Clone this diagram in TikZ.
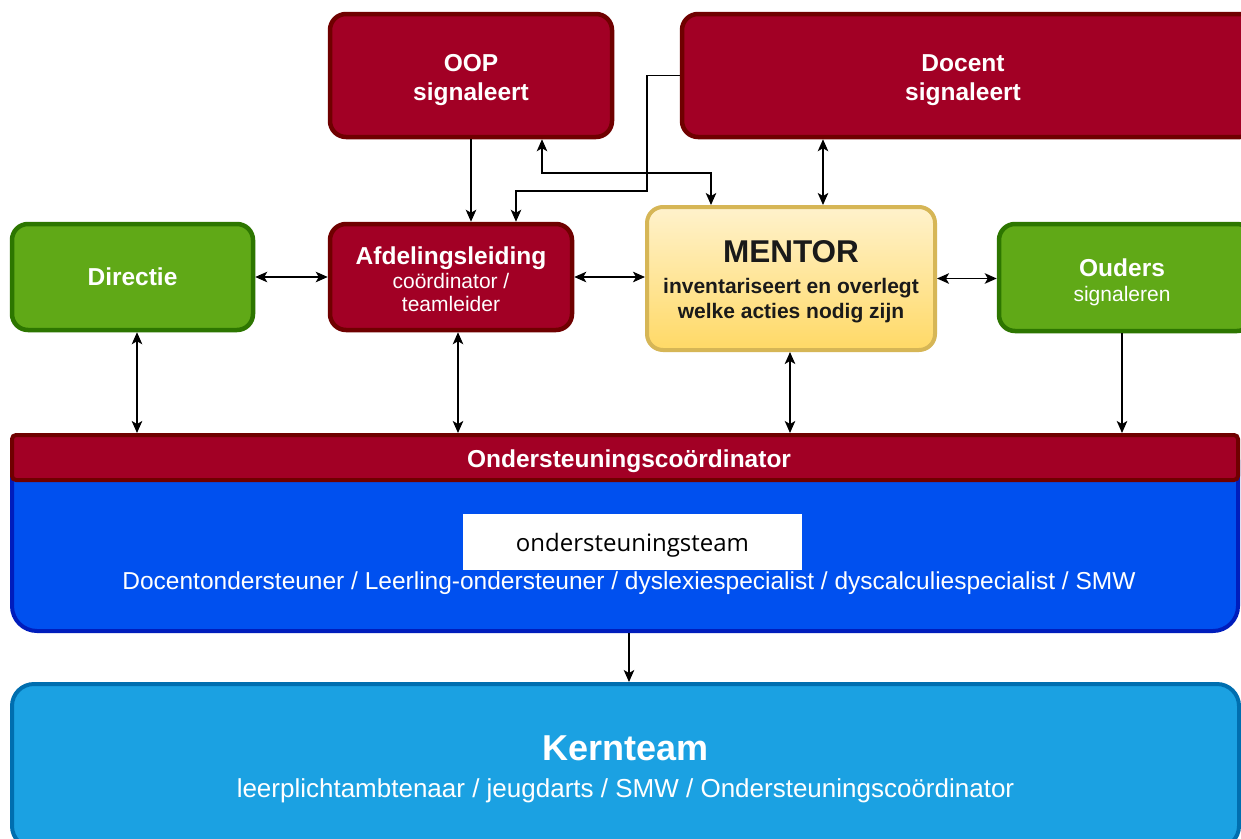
\documentclass[tikz,border=0pt]{standalone}
\usepackage{fontspec}
\setmainfont{Liberation Sans}
\newfontfamily\osfont{Open Sans}
\usetikzlibrary{arrows.meta}
\definecolor{rfill}{HTML}{A20025}
\definecolor{rdraw}{HTML}{6F0000}
\definecolor{gfill}{HTML}{60A917}
\definecolor{gdraw}{HTML}{2D7600}
\definecolor{ytop}{HTML}{FFF2CC}
\definecolor{ybot}{HTML}{FFD966}
\definecolor{ydraw}{HTML}{D6B656}
\definecolor{bfill}{HTML}{0050EF}
\definecolor{bdraw}{HTML}{001DBC}
\definecolor{kfill}{HTML}{1BA1E2}
\definecolor{kdraw}{HTML}{006EAF}
\definecolor{mtext}{HTML}{1A1A1A}
\newcommand\tstrut[1]{\rule{0pt}{#1pt}}
\tikzset{
  box/.style={draw, line width=4.5pt, rounded corners=16pt, align=center, inner sep=0pt, text=white},
  redbox/.style={box, fill=rfill, draw=rdraw},
  greenbox/.style={box, fill=gfill, draw=gdraw},
  tip/.tip={Stealth[length=12pt,width=10.5pt,inset=3pt]},
  arr/.style={line width=1.6pt, -tip},
  darr/.style={line width=1.6pt, tip-tip},
  bigb/.style={font=\fontsize{24.5}{29}\selectfont\bfseries},
}
\begin{document}
\begin{tikzpicture}[x=1pt,y=-1pt]
\useasboundingbox (0,0) rectangle (1241,838);
\clip (0,0) rectangle (1241,838);
\fill[white] (0,0) rectangle (1241,838);

% top boxes
\node[redbox, bigb, minimum width=282, minimum height=123] (oop) at (471,75.5) {\tstrut{27}OOP\\signaleert};
\node[redbox, bigb, minimum width=574, minimum height=123] (docent) at (969,75.5)
  {\hspace*{-12pt}\tstrut{27}Docent\\\hspace*{-12pt}signaleert};

% middle row
\node[greenbox, bigb, minimum width=241, minimum height=106] (directie) at (132.5,277) {Directie};
\node[redbox, minimum width=242, minimum height=106, font=\fontsize{21}{23.5}\selectfont] (afd) at (451,277)
  {{\fontsize{24.5}{26}\selectfont\bfseries\tstrut{22.5}Afdelingsleiding}\\coördinator /\\teamleider};
\node[box, top color=ytop, bottom color=ybot, draw=ydraw, line width=4pt, text=mtext,
  minimum width=288, minimum height=143, font=\fontsize{21}{25.5}\selectfont\bfseries] (mentor) at (791,278.5)
  {{\fontsize{31.5}{33}\selectfont\tstrut{29}MENTOR}\\[5pt]inventariseert en overlegt\\welke acties nodig zijn};
\node[greenbox, minimum width=254, minimum height=107, font=\fontsize{21}{25}\selectfont] (ouders) at (1126,277.5)
  {\hspace*{-8pt}{\fontsize{24.5}{26}\selectfont\bfseries\tstrut{28}Ouders}\\\hspace*{-8pt}signaleren};

% ondersteuningsteam container
\node[draw=bdraw, fill=bfill, line width=4pt, rounded corners=25pt, minimum width=1226, minimum height=196] (blue) at (625,533) {};
\node[draw=rdraw, fill=rfill, line width=4pt, rounded corners=4pt, minimum width=1226, minimum height=45,
  text=white, font=\fontsize{24.5}{28}\selectfont\bfseries] (bar) at (625,457.5) {\hspace*{8pt}\tstrut{26}Ondersteuningscoördinator};
\node[fill=white, minimum width=339, minimum height=56, inner sep=0pt, font=\osfont\fontsize{24}{28}\selectfont] (ot) at (632.5,542) {\tstrut{24}ondersteuningsteam};
\node[text=white, inner sep=0pt, font=\fontsize{24.5}{28}\selectfont] (bluetxt) at (629,583) {Docentondersteuner / Leerling-ondersteuner / dyslexiespecialist / dyscalculiespecialist / SMW};

% Kernteam
\node[draw=kdraw, fill=kfill, line width=4pt, rounded corners=22pt, minimum width=1227, minimum height=164,
  text=white, align=center, inner sep=0pt, font=\fontsize{26}{37}\selectfont] (kern) at (625.5,766)
  {{\fontsize{36}{38}\selectfont\bfseries\tstrut{32}Kernteam}\\leerplichtambtenaar / jeugdarts / SMW / Ondersteuningscoördinator};

% connectors
\draw[arr] (oop.south) -- (oop.south |- afd.north);
\draw[arr] (docent.west) -- (647,75.5) -- (647,191) -- (516,191) -- (516,0 |- afd.north);
\draw[darr] (542,0 |- oop.south) -- (542,173) -- (711,173) -- (711,0 |- mentor.north);
\draw[darr] (823,0 |- docent.south) -- (823,0 |- mentor.north);
\draw[darr] (directie.east) -- (afd.west);
\draw[darr] (afd.east) -- (afd.east -| mentor.west);
\draw[darr] (mentor.east) -- (mentor.east -| ouders.west);
\draw[darr] (137,0 |- directie.south) -- (137,0 |- bar.north);
\draw[darr] (458,0 |- afd.south) -- (458,0 |- bar.north);
\draw[darr] (790,0 |- mentor.south) -- (790,0 |- bar.north);
\draw[arr] (1122,0 |- ouders.south) -- (1122,0 |- bar.north);
\draw[arr] (629,0 |- blue.south) -- (629,0 |- kern.north);
\end{tikzpicture}
\end{document}
